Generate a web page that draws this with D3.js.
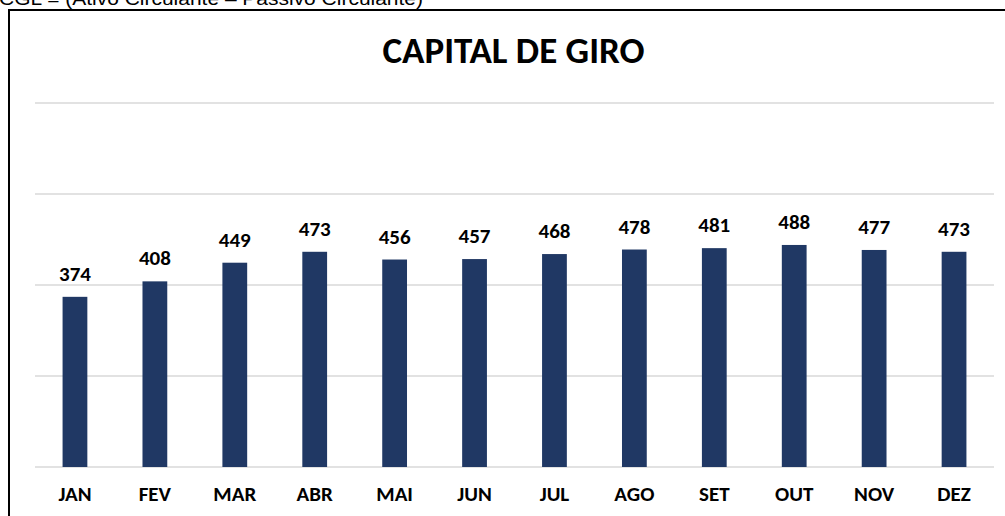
<!DOCTYPE html>
<html>
<head>
<meta charset="utf-8">
<script src="https://cdn.jsdelivr.net/npm/d3@7"></script>
<style>
  body { margin: 0; background: #fff; }
  svg { display: block; }
</style>
</head>
<body>
<div id="chartDiv"></div>
<script>
let w = 1005
let h = 516

let MONTHS = ["JAN", "FEV", "MAR", "ABR", "MAI", "JUN", "JUL", "AGO", "SET", "OUT", "NOV", "DEZ"]
let VALUES = [374, 408, 449, 473, 456, 457, 468, 478, 481, 488, 477, 473]
let Y_TICKS = [0, 200, 400, 600, 800]
let TITLE = "CAPITAL DE GIRO"
let NOTE = "CGL = (Ativo Circulante – Passivo Circulante)"

let font = "Calibri, Carlito, 'Open Sans', 'Liberation Sans', sans-serif"
let barColor = "#203864"

let svg = d3.select("#chartDiv")
  .append("svg")
  .attr("width", w)
  .attr("height", h)

// text above the frame (cut off by the page edge)
svg.append("text")
  .attr("x", -1)
  .attr("y", 5)
  .attr("font-family", "'Liberation Sans', Arial, sans-serif")
  .attr("font-size", 19)
  .attr("textLength", 424)
  .attr("lengthAdjust", "spacingAndGlyphs")
  .attr("fill", "#000")
  .text(NOTE)

// chart frame
svg.append("rect")
  .attr("x", 9)
  .attr("y", 10)
  .attr("width", w + 20)
  .attr("height", h + 20)
  .attr("fill", "none")
  .attr("stroke", "#000")
  .attr("stroke-width", 2)

let x = d3.scaleBand()
  .domain(MONTHS)
  .range([35, 994])
  .paddingInner(0.69)
  .paddingOuter(0.345)

let y = d3.scaleLinear()
  .domain([0, 800])
  .range([467, 103])

// gridlines
svg.append("g")
  .selectAll("line")
  .data(Y_TICKS)
  .enter()
  .append("line")
  .attr("x1", 35)
  .attr("x2", 994)
  .attr("y1", d => y(d))
  .attr("y2", d => y(d))
  .attr("stroke", "#d9d9d9")
  .attr("stroke-width", 1.5)

// title
svg.append("text")
  .attr("x", 513.5)
  .attr("y", 63)
  .attr("text-anchor", "middle")
  .attr("font-family", font)
  .attr("font-weight", "bold")
  .attr("font-size", 37)
  .text(TITLE)

let data = MONTHS.map((m, i) => ({ month: m, value: VALUES[i] }))

// bars
svg.append("g")
  .selectAll("rect")
  .data(data)
  .enter()
  .append("rect")
  .attr("x", d => x(d.month))
  .attr("y", d => y(d.value))
  .attr("width", x.bandwidth())
  .attr("height", d => y(0) - y(d.value))
  .attr("fill", barColor)

// value labels
svg.append("g")
  .selectAll("text")
  .data(data)
  .enter()
  .append("text")
  .attr("x", d => x(d.month) + x.bandwidth() / 2)
  .attr("y", d => y(d.value) - 16)
  .attr("text-anchor", "middle")
  .attr("font-family", font)
  .attr("font-weight", "bold")
  .attr("font-size", 21)
  .text(d => d.value)

// x axis labels
let xAxis = d3.axisBottom(x).tickSize(0).tickPadding(0)
let gx = svg.append("g")
  .attr("transform", "translate(0," + y(0) + ")")
  .call(xAxis)
gx.select(".domain").remove()
gx.selectAll("text")
  .attr("dy", null)
  .attr("y", 34)
  .attr("font-family", font)
  .attr("font-weight", "bold")
  .attr("font-size", 21)
  .attr("fill", "#000")
</script>
</body>
</html>
